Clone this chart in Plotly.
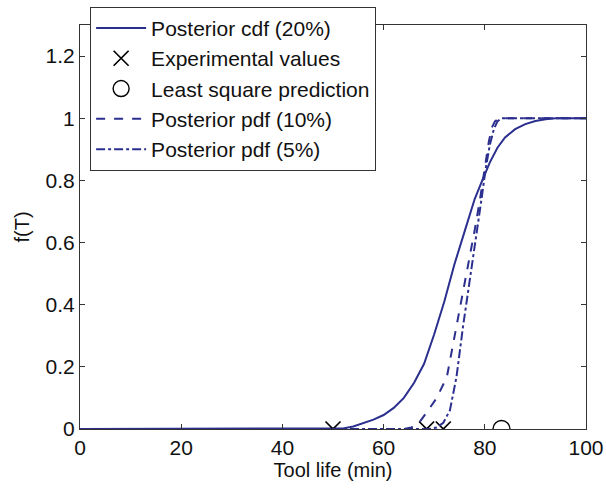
import plotly.graph_objects as go

# Posterior cdf, 20% noise level
cdf20_t = [0, 50, 52, 54, 56, 58, 60, 62, 64, 66, 68, 70, 72, 74, 76, 78, 79.5, 81, 82.5, 84, 86, 88, 90, 92, 94, 100]
cdf20_f = [0, 0, 0.002, 0.008, 0.018, 0.03, 0.045, 0.068, 0.1, 0.148, 0.21, 0.305, 0.41, 0.53, 0.635, 0.74, 0.8, 0.858, 0.905, 0.938, 0.965, 0.981, 0.991, 0.997, 1.0, 1.0]

# Posterior, 10% noise level
pdf10_t = [0, 64, 65.5, 67, 68.8, 70.5, 72.5, 74.4, 75.6, 76.9, 78, 79, 80, 80.8, 81.4, 82, 82.8, 100]
pdf10_f = [0, 0, 0.005, 0.02, 0.06, 0.1, 0.167, 0.33, 0.44, 0.54, 0.64, 0.734, 0.84, 0.925, 0.97, 0.99, 1.0, 1.0]

# Posterior, 5% noise level
pdf5_t = [0, 69, 70.5, 71.8, 73.1, 74.4, 75.7, 76.7, 77.7, 78.5, 79.3, 80.2, 81, 81.8, 82.5, 83.3, 100]
pdf5_f = [0, 0, 0.005, 0.02, 0.06, 0.167, 0.33, 0.44, 0.543, 0.64, 0.734, 0.84, 0.915, 0.965, 0.99, 1.0, 1.0]

# Measured tool lives and the least-squares estimate
exp_t = [50, 68.5, 71.8]
exp_f = [0, 0, 0]
ls_t = [83.3]
ls_f = [0]

x_ticks = [0, 20, 40, 60, 80, 100]
y_ticks = [0, 0.2, 0.4, 0.6, 0.8, 1, 1.2]
y_tick_text = ["0", "0.2", "0.4", "0.6", "0.8", "1", "1.2"]

BLUE = "#2b2f8e"
FONT = "Liberation Sans, Arial, sans-serif"
TEXT = "#111111"

fig = go.Figure()
fig.add_trace(go.Scatter(x=cdf20_t, y=cdf20_f, mode="lines", name="Posterior cdf (20%)",
                         line=dict(color=BLUE, width=2)))
fig.add_trace(go.Scatter(x=exp_t, y=exp_f, mode="markers", name="Experimental values",
                         marker=dict(symbol="x-thin-open", size=15, color="black",
                                     line=dict(color="black", width=1.7))))
fig.add_trace(go.Scatter(x=ls_t, y=ls_f, mode="markers", name="Least square prediction",
                         marker=dict(symbol="circle-open", size=17, color="black",
                                     line=dict(color="black", width=1.4))))
fig.add_trace(go.Scatter(x=pdf10_t, y=pdf10_f, mode="lines", name="Posterior pdf (10%)",
                         line=dict(color=BLUE, width=2, dash="dash")))
fig.add_trace(go.Scatter(x=pdf5_t, y=pdf5_f, mode="lines", name="Posterior pdf (5%)",
                         line=dict(color=BLUE, width=2, dash="dashdot")))

axis_common = dict(
    showline=True, linecolor="#333333", linewidth=1, mirror="ticks",
    ticks="inside", ticklen=5, tickcolor="#333333",
    showgrid=False, zeroline=False,
    tickfont=dict(family=FONT, size=21, color=TEXT),
)

fig.update_xaxes(range=[0, 100], tickvals=x_ticks,
                 title=dict(text="Tool life (min)", font=dict(family=FONT, size=20, color=TEXT),
                            standoff=0),
                 **axis_common)
fig.update_yaxes(range=[0, 1.3], tickvals=y_ticks, ticktext=y_tick_text,
                 title=dict(text="f(T)", font=dict(family=FONT, size=20, color=TEXT),
                            standoff=10),
                 **axis_common)

fig.update_layout(
    width=606, height=489,
    margin=dict(l=80, r=20, t=25, b=60, autoexpand=False),
    paper_bgcolor="white", plot_bgcolor="white",
    showlegend=True,
    legend=dict(
        x=0.02, y=1.045, xanchor="left", yanchor="top",
        bgcolor="white", bordercolor="#333333", borderwidth=1,
        font=dict(family=FONT, size=21, color=TEXT),
        itemwidth=50,
    ),
)

fig.write_html("out.html")
